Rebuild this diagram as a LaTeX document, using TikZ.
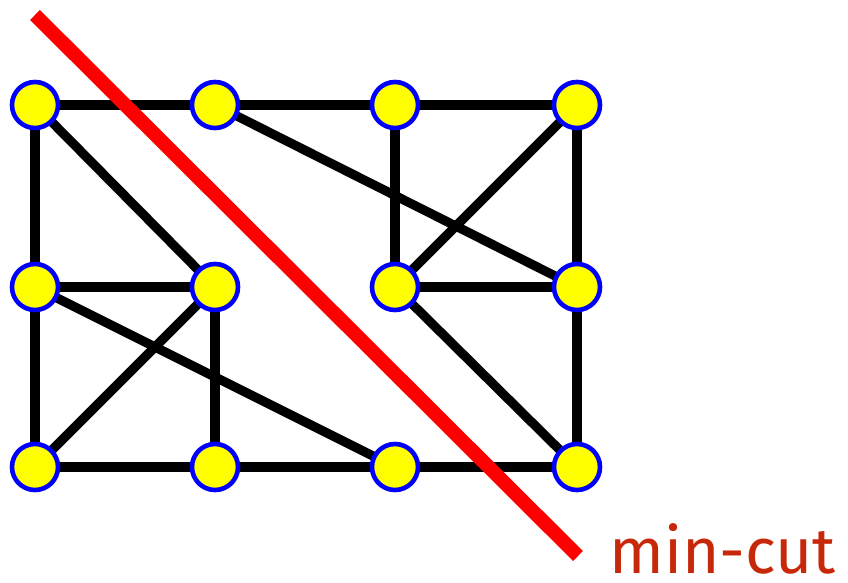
\documentclass[tikz,border=0pt]{standalone}
\usepackage{fontspec}
\setsansfont{Fira Sans}
\usetikzlibrary{positioning}
\definecolor{cutred}{RGB}{255,0,0}
\definecolor{labelred}{RGB}{200,40,10}
\definecolor{vblue}{RGB}{0,0,255}
\definecolor{vyellow}{RGB}{255,255,0}

\begin{document}
\begin{tikzpicture}[
  x=0.5pt, y=-0.5pt,
  vert/.style={circle, draw=vblue, fill=vyellow, line width=2.3pt, minimum size=23pt, inner sep=0pt},
  edge/.style={draw=black, line width=4.6pt},
  cut/.style={draw=cutred, line width=7pt}
]
  \useasboundingbox (0,0) rectangle (848,583);

  % vertices, row by row
  \foreach \c/\x in {0/35,1/215,2/395,3/577}
    \foreach \r/\y in {0/105,1/287,2/467}
      \coordinate (p\c\r) at (\x,\y);

  % edges
  \draw[edge] (p00) -- (p10) -- (p20) -- (p30);
  \draw[edge] (p01) -- (p11);
  \draw[edge] (p21) -- (p31);
  \draw[edge] (p02) -- (p12) -- (p22) -- (p32);
  \draw[edge] (p00) -- (p01) -- (p02);
  \draw[edge] (p11) -- (p12);
  \draw[edge] (p20) -- (p21);
  \draw[edge] (p30) -- (p31) -- (p32);
  \draw[edge] (p00) -- (p11);
  \draw[edge] (p10) -- (p31);
  \draw[edge] (p30) -- (p21);
  \draw[edge] (p01) -- (p22);
  \draw[edge] (p11) -- (p02);
  \draw[edge] (p21) -- (p32);

  \foreach \c in {0,1,2,3}
    \foreach \r in {0,1,2}
      \node[vert] (v\c\r) at (p\c\r) {};

  % the cut
  \coordinate (cuttop) at (35,15);
  \coordinate (cutend) at (578,556);
  \draw[cut] (cuttop) -- (cutend);
  \node[anchor=base west, inner sep=0pt, text=labelred, font=\sffamily\fontsize{32}{32}\selectfont] (lbl) at (609,574) {min-cut};
\end{tikzpicture}
\end{document}
